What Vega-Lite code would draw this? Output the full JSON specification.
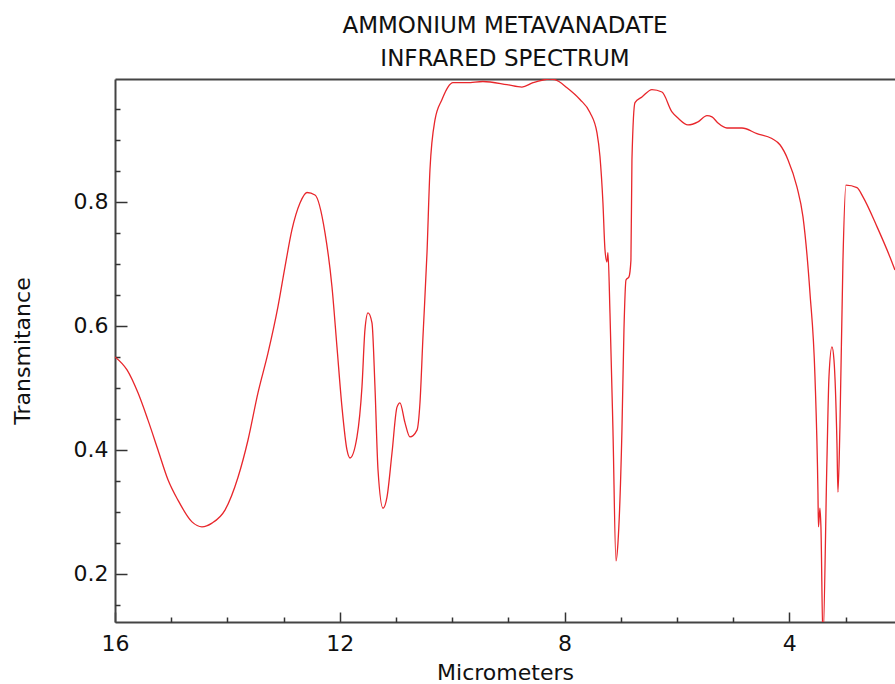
{
  "$schema": "https://vega.github.io/schema/vega-lite/v6.json",
  "width": 780,
  "height": 543,
  "autosize": {"type": "none"},
  "padding": {"left": 115, "top": 79, "right": 0, "bottom": 62},
  "background": "white",
  "config": {
    "view": {"stroke": null},
    "font": "DejaVu Sans",
    "axis": {
      "grid": false,
      "labelFont": "DejaVu Sans",
      "titleFont": "DejaVu Sans",
      "labelFontSize": 22,
      "titleFontSize": 22,
      "titleFontWeight": "normal",
      "labelColor": "#111111",
      "titleColor": "#111111",
      "domainColor": "#444444",
      "domainWidth": 2,
      "tickColor": "#333333",
      "tickWidth": 1.5,
      "labelFlush": false
    }
  },
  "title": {
    "text": ["AMMONIUM METAVANADATE", "INFRARED SPECTRUM"],
    "font": "DejaVu Sans",
    "fontSize": 23,
    "fontWeight": "normal",
    "lineHeight": 33,
    "anchor": "middle",
    "frame": "group",
    "offset": 8,
    "color": "#111111"
  },
  "data": {
    "values": [
      {"um": 16.0, "t": 0.550},
      {"um": 15.786, "t": 0.529},
      {"um": 15.591, "t": 0.492},
      {"um": 15.413, "t": 0.448},
      {"um": 15.235, "t": 0.400},
      {"um": 15.057, "t": 0.352},
      {"um": 14.879, "t": 0.319},
      {"um": 14.630, "t": 0.284},
      {"um": 14.452, "t": 0.276},
      {"um": 14.274, "t": 0.282},
      {"um": 14.043, "t": 0.303},
      {"um": 13.811, "t": 0.356},
      {"um": 13.633, "t": 0.416},
      {"um": 13.456, "t": 0.492},
      {"um": 13.278, "t": 0.556},
      {"um": 13.100, "t": 0.631},
      {"um": 12.975, "t": 0.695},
      {"um": 12.851, "t": 0.755},
      {"um": 12.708, "t": 0.798},
      {"um": 12.584, "t": 0.815},
      {"um": 12.441, "t": 0.811},
      {"um": 12.263, "t": 0.750},
      {"um": 12.139, "t": 0.663},
      {"um": 12.050, "t": 0.566},
      {"um": 11.961, "t": 0.469},
      {"um": 11.872, "t": 0.400},
      {"um": 11.819, "t": 0.387},
      {"um": 11.694, "t": 0.421},
      {"um": 11.605, "t": 0.502},
      {"um": 11.552, "t": 0.594},
      {"um": 11.498, "t": 0.621},
      {"um": 11.427, "t": 0.605},
      {"um": 11.374, "t": 0.502},
      {"um": 11.320, "t": 0.368},
      {"um": 11.231, "t": 0.306},
      {"um": 11.160, "t": 0.324},
      {"um": 11.071, "t": 0.395},
      {"um": 10.982, "t": 0.469},
      {"um": 10.929, "t": 0.476},
      {"um": 10.840, "t": 0.444},
      {"um": 10.751, "t": 0.421},
      {"um": 10.626, "t": 0.432},
      {"um": 10.573, "t": 0.476},
      {"um": 10.520, "t": 0.582},
      {"um": 10.448, "t": 0.718},
      {"um": 10.395, "t": 0.852},
      {"um": 10.306, "t": 0.932},
      {"um": 10.181, "t": 0.965},
      {"um": 10.075, "t": 0.985},
      {"um": 9.986, "t": 0.992},
      {"um": 9.737, "t": 0.992},
      {"um": 9.452, "t": 0.994},
      {"um": 9.025, "t": 0.989},
      {"um": 8.758, "t": 0.985},
      {"um": 8.562, "t": 0.992},
      {"um": 8.260, "t": 0.998},
      {"um": 8.171, "t": 0.997},
      {"um": 7.957, "t": 0.984},
      {"um": 7.726, "t": 0.965},
      {"um": 7.548, "t": 0.944},
      {"um": 7.423, "t": 0.911},
      {"um": 7.370, "t": 0.873},
      {"um": 7.317, "t": 0.798},
      {"um": 7.281, "t": 0.723},
      {"um": 7.246, "t": 0.703},
      {"um": 7.228, "t": 0.718},
      {"um": 7.192, "t": 0.621},
      {"um": 7.139, "t": 0.432},
      {"um": 7.085, "t": 0.221},
      {"um": 7.050, "t": 0.250},
      {"um": 6.979, "t": 0.432},
      {"um": 6.943, "t": 0.594},
      {"um": 6.907, "t": 0.674},
      {"um": 6.854, "t": 0.679},
      {"um": 6.819, "t": 0.706},
      {"um": 6.801, "t": 0.868},
      {"um": 6.747, "t": 0.960},
      {"um": 6.623, "t": 0.969},
      {"um": 6.445, "t": 0.981},
      {"um": 6.267, "t": 0.977},
      {"um": 6.089, "t": 0.945},
      {"um": 5.982, "t": 0.935},
      {"um": 5.804, "t": 0.924},
      {"um": 5.626, "t": 0.929},
      {"um": 5.466, "t": 0.939},
      {"um": 5.377, "t": 0.937},
      {"um": 5.270, "t": 0.927},
      {"um": 5.110, "t": 0.919},
      {"um": 4.843, "t": 0.919},
      {"um": 4.577, "t": 0.910},
      {"um": 4.310, "t": 0.902},
      {"um": 4.167, "t": 0.892},
      {"um": 4.025, "t": 0.868},
      {"um": 3.865, "t": 0.824},
      {"um": 3.758, "t": 0.776},
      {"um": 3.633, "t": 0.653},
      {"um": 3.544, "t": 0.518},
      {"um": 3.491, "t": 0.331},
      {"um": 3.482, "t": 0.276},
      {"um": 3.456, "t": 0.306},
      {"um": 3.438, "t": 0.276},
      {"um": 3.402, "t": 0.094},
      {"um": 3.331, "t": 0.384},
      {"um": 3.295, "t": 0.518},
      {"um": 3.242, "t": 0.566},
      {"um": 3.206, "t": 0.545},
      {"um": 3.153, "t": 0.411},
      {"um": 3.135, "t": 0.332},
      {"um": 3.100, "t": 0.437},
      {"um": 3.046, "t": 0.706},
      {"um": 2.993, "t": 0.827},
      {"um": 2.797, "t": 0.823},
      {"um": 2.690, "t": 0.808},
      {"um": 2.441, "t": 0.760},
      {"um": 2.210, "t": 0.711},
      {"um": 2.121, "t": 0.690}
    ]
  },
  "layer": [
    {
      "mark": {"type": "line", "color": "#e8262b", "strokeWidth": 1.3, "clip": true, "interpolate": "monotone"},
      "encoding": {
        "x": {
          "field": "um",
          "type": "quantitative",
          "scale": {"domain": [2.12, 16], "reverse": true, "nice": false, "zero": false},
          "axis": {
            "orient": "bottom",
            "values": [16, 12, 8, 4],
            "format": "d",
            "tickSize": -10,
            "labelPadding": 21,
            "title": "Micrometers",
            "titlePadding": 8
          }
        },
        "y": {
          "field": "t",
          "type": "quantitative",
          "scale": {"domain": [0.1226, 0.998], "nice": false, "zero": false},
          "axis": {
            "orient": "left",
            "values": [0.2, 0.4, 0.6, 0.8],
            "format": ".1f",
            "tickSize": -12,
            "labelPadding": 19,
            "title": "Transmitance",
            "titlePadding": 39
          }
        }
      }
    },
    {
      "mark": {"type": "line", "opacity": 0},
      "encoding": {
        "x": {
          "field": "um",
          "type": "quantitative",
          "axis": {
            "orient": "bottom",
            "values": [15, 14, 13, 11, 10, 9, 7, 6, 5, 3],
            "labels": false,
            "domain": false,
            "tickSize": -5,
            "title": null
          }
        },
        "y": {
          "field": "t",
          "type": "quantitative",
          "axis": {
            "orient": "left",
            "values": [0.15, 0.25, 0.3, 0.35, 0.45, 0.5, 0.55, 0.65, 0.7, 0.75, 0.85, 0.9, 0.95],
            "labels": false,
            "domain": false,
            "tickSize": -5,
            "title": null
          }
        }
      }
    },
    {
      "mark": {"type": "line", "opacity": 0},
      "encoding": {
        "x": {
          "field": "um",
          "type": "quantitative",
          "axis": {
            "orient": "top",
            "labels": false,
            "ticks": false,
            "domain": true,
            "title": null
          }
        },
        "y": {"field": "t", "type": "quantitative", "axis": null}
      }
    }
  ],
  "resolve": {"axis": {"x": "independent", "y": "independent"}}
}
